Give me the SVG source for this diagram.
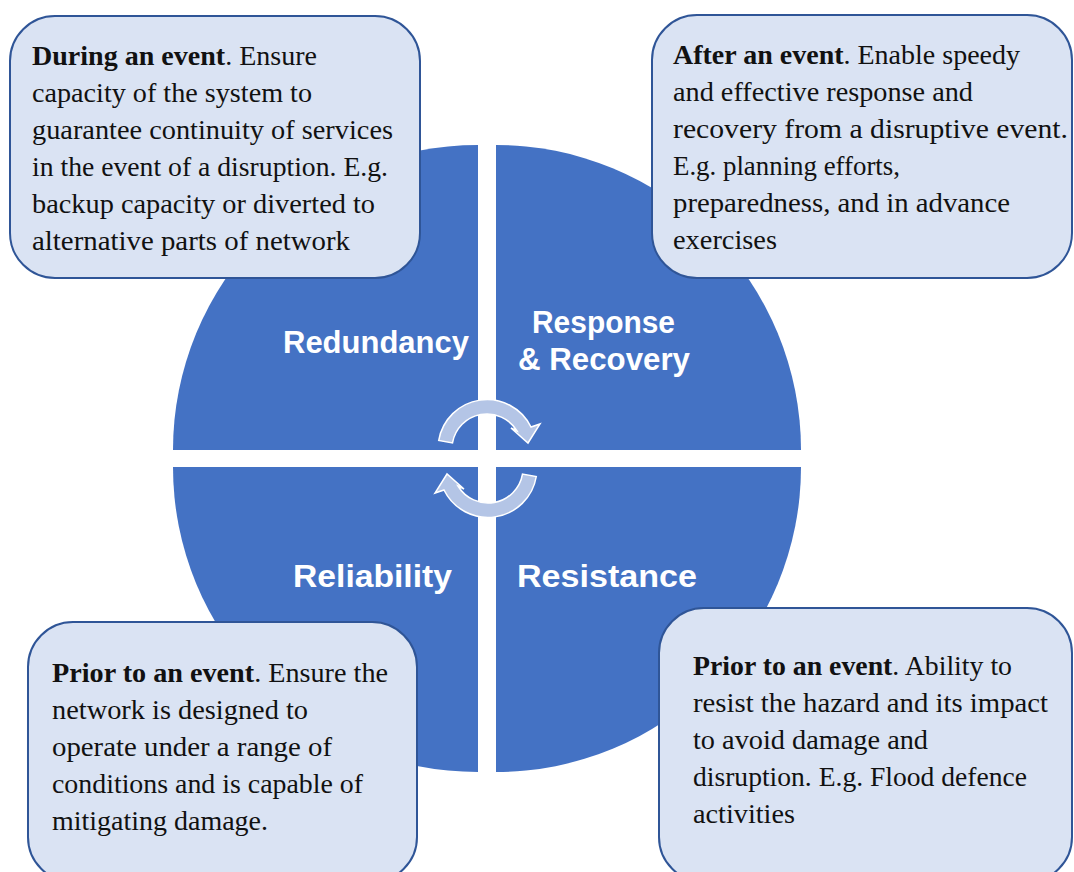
<svg xmlns="http://www.w3.org/2000/svg" width="1074" height="872" viewBox="0 0 1074 872">
<style>
.q{fill:#4472C4}
.lbl{font-family:"Liberation Sans",Arial,sans-serif;font-weight:bold;font-size:32px;fill:#fff}
.box{fill:#DAE3F3;stroke:#2F5597;stroke-width:2}
.t{font-family:"Liberation Serif","Times New Roman",serif;font-size:28px;fill:#111}
.b{font-weight:bold}
.arr{fill:#B4C5E6;stroke:#fff;stroke-width:1.5}
</style>
<rect width="1074" height="872" fill="#fff"/>
<g id="redundancy">
<path class="q" d="M478,450 L173,450 A305,305 0 0 1 478,145 Z"/>
<text class="lbl" x="283" y="353" textLength="186" lengthAdjust="spacingAndGlyphs">Redundancy</text>
</g>
<g id="response-recovery">
<path class="q" d="M496,450 L496,145 A305,305 0 0 1 801,450 Z"/>
<text class="lbl" x="532" y="333" textLength="143" lengthAdjust="spacingAndGlyphs">Response</text>
<text class="lbl" x="518" y="370" textLength="172" lengthAdjust="spacingAndGlyphs">&amp; Recovery</text>
</g>
<g id="resistance">
<path class="q" d="M496,467 L801,467 A305,305 0 0 1 496,772 Z"/>
<text class="lbl" x="517" y="587" textLength="180" lengthAdjust="spacingAndGlyphs">Resistance</text>
</g>
<g id="reliability">
<path class="q" d="M478,467 L478,772 A305,305 0 0 1 173,467 Z"/>
<text class="lbl" x="293" y="587" textLength="159" lengthAdjust="spacingAndGlyphs">Reliability</text>
</g>
<g id="connectors">
<path id="arrow-top" class="arr" d="M438.7,440.5 A49,49 0 0 1 531,427 L540,424 L528,443 L511,428 L517,431 A35,35 0 0 0 452.5,442.9 Z"/>
<path id="arrow-bottom" class="arr" transform="rotate(180 487.5 458.5)" d="M438.7,440.5 A49,49 0 0 1 531,427 L540,424 L528,443 L511,428 L517,431 A35,35 0 0 0 452.5,442.9 Z"/>
</g>
<g id="box-during">
<rect class="box" x="10" y="16" width="410" height="262" rx="45"/>
<text class="t" x="32" y="65" textLength="285" lengthAdjust="spacingAndGlyphs"><tspan class="b">During an event</tspan>. Ensure</text>
<text class="t" x="32" y="102" textLength="280" lengthAdjust="spacingAndGlyphs">capacity of the system to</text>
<text class="t" x="32" y="139" textLength="361" lengthAdjust="spacingAndGlyphs">guarantee continuity of services</text>
<text class="t" x="32" y="176" textLength="356" lengthAdjust="spacingAndGlyphs">in the event of a disruption. E.g.</text>
<text class="t" x="32" y="213" textLength="343" lengthAdjust="spacingAndGlyphs">backup capacity or diverted to</text>
<text class="t" x="32" y="250" textLength="318" lengthAdjust="spacingAndGlyphs">alternative parts of network</text>
</g>
<g id="box-after">
<rect class="box" x="652" y="15" width="420" height="263" rx="45"/>
<text class="t" x="673" y="64" textLength="347" lengthAdjust="spacingAndGlyphs"><tspan class="b">After an event</tspan>. Enable speedy</text>
<text class="t" x="673" y="101" textLength="300" lengthAdjust="spacingAndGlyphs">and effective response and</text>
<text class="t" x="673" y="138" textLength="395" lengthAdjust="spacingAndGlyphs">recovery from a disruptive event.</text>
<text class="t" x="673" y="175" textLength="227" lengthAdjust="spacingAndGlyphs">E.g. planning efforts,</text>
<text class="t" x="673" y="212" textLength="337" lengthAdjust="spacingAndGlyphs">preparedness, and in advance</text>
<text class="t" x="673" y="249" textLength="104" lengthAdjust="spacingAndGlyphs">exercises</text>
</g>
<g id="box-prior-reliability">
<rect class="box" x="28" y="622" width="389" height="260" rx="45"/>
<text class="t" x="52" y="682" textLength="336" lengthAdjust="spacingAndGlyphs"><tspan class="b">Prior to an event</tspan>. Ensure the</text>
<text class="t" x="52" y="719" textLength="256" lengthAdjust="spacingAndGlyphs">network is designed to</text>
<text class="t" x="52" y="756" textLength="280" lengthAdjust="spacingAndGlyphs">operate under a range of</text>
<text class="t" x="52" y="793" textLength="311" lengthAdjust="spacingAndGlyphs">conditions and is capable of</text>
<text class="t" x="52" y="830" textLength="216" lengthAdjust="spacingAndGlyphs">mitigating damage.</text>
</g>
<g id="box-prior-resistance">
<rect class="box" x="659" y="608" width="413" height="274" rx="45"/>
<text class="t" x="693" y="675" textLength="319" lengthAdjust="spacingAndGlyphs"><tspan class="b">Prior to an event</tspan>. Ability to</text>
<text class="t" x="693" y="712" textLength="355" lengthAdjust="spacingAndGlyphs">resist the hazard and its impact</text>
<text class="t" x="693" y="749" textLength="235" lengthAdjust="spacingAndGlyphs">to avoid damage and</text>
<text class="t" x="693" y="786" textLength="334" lengthAdjust="spacingAndGlyphs">disruption. E.g. Flood defence</text>
<text class="t" x="693" y="823" textLength="102" lengthAdjust="spacingAndGlyphs">activities</text>
</g>
</svg>
